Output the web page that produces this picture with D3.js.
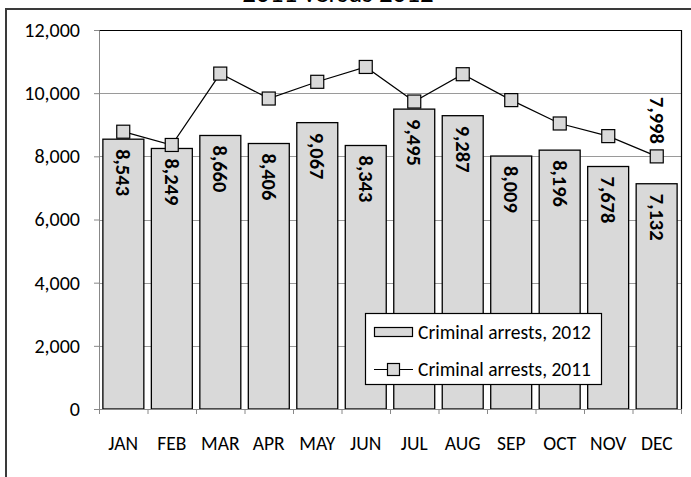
<!DOCTYPE html>
<html>
<head>
<meta charset="utf-8">
<script src="https://cdn.jsdelivr.net/npm/d3@7"></script>
<style>
  html, body { margin: 0; padding: 0; background: #fff; }
  svg { display: block; }
  text { font-family: Carlito, Calibri, Lato, "Noto Sans", sans-serif; fill: #000; }
</style>
</head>
<body>
<svg id="chart" width="691" height="477"></svg>
<script>
const months = ["JAN","FEB","MAR","APR","MAY","JUN","JUL","AUG","SEP","OCT","NOV","DEC"];
const arrests2012 = [8543, 8249, 8660, 8406, 9067, 8343, 9495, 9287, 8009, 8196, 7678, 7132];
const arrests2011 = [8780, 8360, 10620, 9830, 10360, 10830, 9735, 10600, 9780, 9040, 8640, 7998];
const yTicks = [0, 2000, 4000, 6000, 8000, 10000, 12000];
const seriesNames = ["Criminal arrests, 2012", "Criminal arrests, 2011"];
const title = "2011 versus 2012";

const svg = d3.select("#chart");
const m = { left: 99, top: 30, right: 681, bottom: 409 };
const fmt = d3.format(",");

// outer chart frame
svg.append("rect").attr("x", 6).attr("y", 9).attr("width", 720).attr("height", 520)
  .attr("fill", "none").attr("stroke", "#3a3a3a").attr("stroke-width", 2);

// title (mostly cut off at top, as in the reference)
svg.append("text").attr("x", 338).attr("y", 2).attr("text-anchor", "middle")
  .attr("font-size", 27).text(title);

const x = d3.scaleBand().domain(months).range([m.left, m.right]).paddingInner(0.155).paddingOuter(0.08);
const xb = d3.scaleBand().domain(months).range([m.left, m.right]);
const y = d3.scaleLinear().domain([0, 12000]).range([m.bottom, m.top]);

// gridlines
svg.append("g").selectAll("line").data(yTicks.filter(d => d > 0 && d < 12000)).join("line")
  .attr("x1", m.left).attr("x2", m.right)
  .attr("y1", d => Math.round(y(d)) + 0.5).attr("y2", d => Math.round(y(d)) + 0.5)
  .attr("stroke", "#9a9a9a").attr("stroke-width", 1);

// plot area border (top & right black)
svg.append("path")
  .attr("d", `M${m.left},${m.top + 0.5}H${m.right + 0.5}V${m.bottom}`)
  .attr("fill", "none").attr("stroke", "#000").attr("stroke-width", 1.2);

// bars
svg.append("g").selectAll("rect").data(arrests2012).join("rect")
  .attr("x", (d, i) => x(months[i]))
  .attr("y", d => y(d))
  .attr("width", x.bandwidth())
  .attr("height", d => y(0) - y(d))
  .attr("fill", "#d9d9d9").attr("stroke", "#000").attr("stroke-width", 1.3);

// y axis
const yAxis = svg.append("g").attr("transform", `translate(${m.left},0)`)
  .call(d3.axisLeft(y).tickValues(yTicks).tickFormat(fmt).tickSize(5).tickPadding(14));
yAxis.select(".domain").attr("stroke", "#888");
yAxis.selectAll(".tick line").attr("stroke", "#888");
yAxis.selectAll(".tick text").attr("font-size", 20).attr("font-family", "Carlito, Calibri, Lato, sans-serif");

// x axis with ticks at category boundaries
const xAxisG = svg.append("g").attr("transform", `translate(0,${m.bottom})`);
xAxisG.append("line").attr("x1", m.left).attr("x2", m.right + 1).attr("y1", 0.5).attr("y2", 0.5).attr("stroke", "#888");
const bounds = months.map(mo => xb(mo)).concat([m.right]);
xAxisG.selectAll("line.tk").data(bounds).join("line").attr("class", "tk")
  .attr("x1", d => d + 0.5).attr("x2", d => d + 0.5).attr("y1", 0).attr("y2", 5).attr("stroke", "#888");
xAxisG.selectAll("text").data(months).join("text")
  .attr("x", d => xb(d) + xb.bandwidth() / 2).attr("y", 41)
  .attr("text-anchor", "middle").attr("font-size", 19.5).text(d => d);

// 2011 line
const cx = (i) => xb(months[i]) + xb.bandwidth() / 2;
svg.append("path").datum(arrests2011)
  .attr("d", d3.line().x((d, i) => cx(i)).y(d => y(d)))
  .attr("fill", "none").attr("stroke", "#000").attr("stroke-width", 1.2);
const ms = 13;
svg.append("g").selectAll("rect").data(arrests2011).join("rect")
  .attr("x", (d, i) => cx(i) - ms / 2).attr("y", d => y(d) - ms / 2)
  .attr("width", ms).attr("height", ms)
  .attr("fill", "#d9d9d9").attr("stroke", "#000").attr("stroke-width", 1.2);

// bar labels (rotated, inside top of bars)
svg.append("g").selectAll("text").data(arrests2012).join("text")
  .attr("transform", (d, i) => `translate(${x(months[i]) + x.bandwidth() / 2},${y(d) + 10}) rotate(90)`)
  .attr("text-anchor", "start").attr("dominant-baseline", "central")
  .attr("font-size", 20.5).attr("font-weight", "bold").text(d => fmt(d));

// label for last 2011 point
const li = arrests2011.length - 1;
svg.append("text")
  .attr("transform", `translate(${cx(li)},${y(arrests2011[li]) - ms / 2 - 6}) rotate(90)`)
  .attr("text-anchor", "end").attr("dominant-baseline", "central")
  .attr("font-size", 20.5).attr("font-weight", "bold").text(fmt(arrests2011[li]));

// legend
const lg = svg.append("g");
lg.append("rect").attr("x", 365.5).attr("y", 313.5).attr("width", 236).attr("height", 71)
  .attr("fill", "#fff").attr("stroke", "#000").attr("stroke-width", 1.2);
lg.append("rect").attr("x", 374.5).attr("y", 327.5).attr("width", 38).attr("height", 9)
  .attr("fill", "#d9d9d9").attr("stroke", "#000").attr("stroke-width", 1.2);
lg.append("line").attr("x1", 374).attr("x2", 413).attr("y1", 369.5).attr("y2", 369.5)
  .attr("stroke", "#000").attr("stroke-width", 1.2);
lg.append("rect").attr("x", 387.5).attr("y", 363.5).attr("width", 12).attr("height", 12)
  .attr("fill", "#d9d9d9").attr("stroke", "#000").attr("stroke-width", 1.2);
lg.selectAll("text.lt").data(seriesNames).join("text").attr("class", "lt")
  .attr("x", 418).attr("y", (d, i) => i === 0 ? 332 : 369)
  .attr("dominant-baseline", "central").attr("font-size", 19.5).text(d => d);
</script>
</body>
</html>
